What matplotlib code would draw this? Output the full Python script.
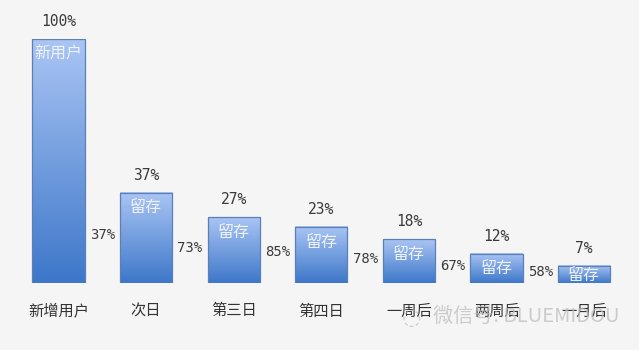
import numpy as np
import matplotlib
matplotlib.use("Agg")
import matplotlib.pyplot as plt
from matplotlib.colors import LinearSegmentedColormap

plt.rcParams['font.family'] = ['Noto Sans CJK SC', 'DejaVu Sans']

categories = ['新增用户', '次日', '第三日', '第四日', '一周后', '两周后', '一月后']
retention = [100, 37, 27, 23, 18, 12, 7]
bar_texts = ['新用户', '留存', '留存', '留存', '留存', '留存', '留存']
step_ratios = [37, 73, 85, 78, 67, 58]

fig = plt.figure(figsize=(6.39, 3.5), dpi=100)
fig.patch.set_facecolor('#f5f5f5')
ax_h_px = 244
ax = fig.add_axes([0, 67/350, 1, ax_h_px/350])
ax.set_facecolor('none')
x = np.arange(len(categories))
ax.set_xlim(-58.5/87.6, (639-58.5)/87.6)
ax.set_ylim(0, 100)

bars = ax.bar(x, retention, width=0.594, color='none', edgecolor='#5b80b8', linewidth=0.9, zorder=3)
cmap = LinearSegmentedColormap.from_list('g', ['#3d77c9', '#aac5f4'])
grad = np.linspace(0, 1, 256).reshape(-1, 1)
for b in bars:
    x0, w, h = b.get_x(), b.get_width(), b.get_height()
    ax.imshow(grad, cmap=cmap, origin='lower', aspect='auto',
              extent=(x0, x0 + w, 0, h), zorder=2)

for xi, v, t in zip(x, retention, bar_texts):
    ax.annotate(f'{v}%', (xi, v), xytext=(0, 12.5), textcoords='offset points',
                ha='center', va='center', fontsize=10.5, color='#3a3a3a',
                family='DejaVu Sans Mono', annotation_clip=False)
    bar_pt = v / 100 * ax_h_px * 0.72
    off = min(11, bar_pt * 0.5 + 0.5)
    ax.annotate(t, (xi, v), xytext=(0, -off), textcoords='offset points',
                ha='center', va='center', fontsize=11.5, color='#eef3fb', zorder=4,
                annotation_clip=False)

for i, r in enumerate(step_ratios):
    nxt = retention[i + 1]
    ax.text(i + 0.5, nxt * 0.5 + 1, f'{r}%', ha='center', va='center',
            fontsize=10, color='#3a3a3a', family='DejaVu Sans Mono')

ax.set_xticks(x)
ax.set_xticklabels(categories, fontsize=11, color='#333333')
ax.tick_params(axis='x', length=0, pad=14)
ax.set_yticks([])
for s in ax.spines.values():
    s.set_visible(False)

fig.text(433/639, 1 - 316/350, '微信号: BLUEMIDOU', ha='left', va='center',
         fontsize=14.5, color='#bdbdbd', alpha=0.75)
fig.text(411/639, 1 - 318/350, '◌', ha='center', va='center',
         fontsize=16, color='#bdbdbd', alpha=0.75, family='DejaVu Sans')

fig.savefig('out.png', dpi=100, facecolor=fig.get_facecolor())
